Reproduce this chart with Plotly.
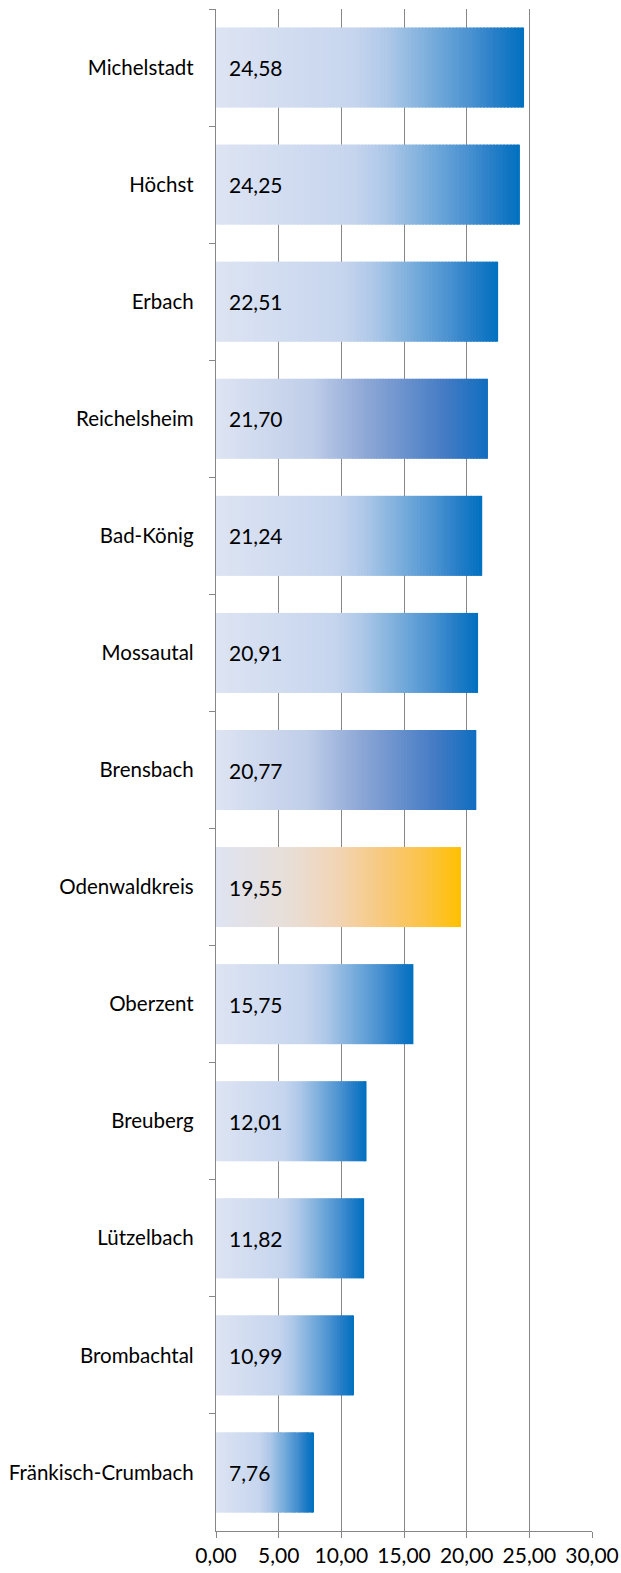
import plotly.graph_objects as go

# ---- data ----
categories = ["Michelstadt", "Höchst", "Erbach", "Reichelsheim", "Bad-König", "Mossautal",
              "Brensbach", "Odenwaldkreis", "Oberzent", "Breuberg", "Lützelbach",
              "Brombachtal", "Fränkisch-Crumbach"]
values = [24.58, 24.25, 22.51, 21.70, 21.24, 20.91, 20.77, 19.55, 15.75, 12.01, 11.82, 10.99, 7.76]
schemes = ["blue", "blue", "blue", "purple", "blue", "blue", "purple", "orange",
           "blue", "blue", "blue", "blue", "blue"]
x_ticks = [0, 5, 10, 15, 20, 25, 30]

# ---- gradient styles (position along bar, rgb) ----
GRADIENTS = {
    "blue": [(0.0, (221, 228, 243)), (0.45, (198, 213, 238)), (0.55, (176, 201, 233)),
             (0.62, (150, 188, 226)), (0.72, (112, 168, 218)), (0.82, (76, 147, 209)),
             (0.91, (38, 126, 200)), (1.0, (0, 112, 192))],
    "purple": [(0.0, (221, 228, 243)), (0.35, (192, 206, 233)), (0.55, (142, 168, 214)),
               (0.7, (105, 145, 205)), (0.85, (66, 122, 196)), (1.0, (16, 110, 192))],
    "orange": [(0.0, (222, 228, 242)), (0.3, (232, 222, 215)), (0.5, (242, 212, 180)),
               (0.7, (248, 200, 120)), (0.85, (252, 195, 70)), (1.0, (255, 192, 0))],
}


def grad_color(scheme, t):
    stops = GRADIENTS[scheme]
    for (p0, c0), (p1, c1) in zip(stops[:-1], stops[1:]):
        if p0 <= t <= p1:
            f = (t - p0) / (p1 - p0) if p1 > p0 else 0
            c = [round(a + (b - a) * f) for a, b in zip(c0, c1)]
            return f"rgb({c[0]},{c[1]},{c[2]})"
    c = stops[-1][1]
    return f"rgb({c[0]},{c[1]},{c[2]})"


N = 90
fig = go.Figure()
for k in range(N):
    t = (k + 0.5) / N
    bases = [v * k / N for v in values]
    widths = [min(v * (k + 1.6) / N, v) - v * k / N for v in values]
    fig.add_trace(go.Bar(
        y=categories, x=widths, base=bases, orientation="h",
        marker=dict(color=[grad_color(s, t) for s in schemes], line=dict(width=0)),
        hoverinfo="skip", showlegend=False,
    ))

# summary trace carrying the actual values (invisible, for hover)
fig.add_trace(go.Bar(
    y=categories, x=values, base=[0] * len(values), orientation="h",
    marker=dict(color="rgba(0,0,0,0)", line=dict(width=0)),
    hovertemplate="%{y}: %{x:.2f}<extra></extra>", showlegend=False,
))

font_family = "Lato, 'Open Sans', sans-serif"
for c, v in zip(categories, values):
    fig.add_annotation(x=0, y=c, text=f"{v:.2f}".replace(".", ","), showarrow=False,
                       xanchor="left", xshift=11, font=dict(size=21, color="#000000",
                                                            family=font_family))

grid = "#878787"
fig.update_layout(
    width=621, height=1573,
    margin=dict(l=216, r=29, t=9, b=42),
    barmode="overlay", bargap=0.317,
    plot_bgcolor="white", paper_bgcolor="white",
    separators=",.",
    font=dict(family=font_family, size=21, color="#000000"),
    xaxis=dict(range=[0, 30], tickvals=x_ticks, tickformat=".2f",
               showgrid=True, gridcolor=grid, gridwidth=1.4,
               showline=True, linecolor=grid, linewidth=1.4,
               ticks="outside", ticklen=6, tickcolor=grid, tickwidth=1.4,
               zeroline=False, fixedrange=True, automargin=False),
    yaxis=dict(categoryorder="array", categoryarray=categories, autorange="reversed",
               showgrid=False, showline=True, linecolor=grid, linewidth=1.4,
               ticks="outside", ticklen=6, tickcolor=grid, tickwidth=1.4,
               tickson="boundaries", ticklabelstandoff=17, zeroline=False,
               tickfont=dict(size=20.5), automargin=False, fixedrange=True),
)

fig.write_html("out.html", config={"displayModeBar": False},
               post_script="document.body.style.margin='0';document.body.style.overflow='hidden';")
